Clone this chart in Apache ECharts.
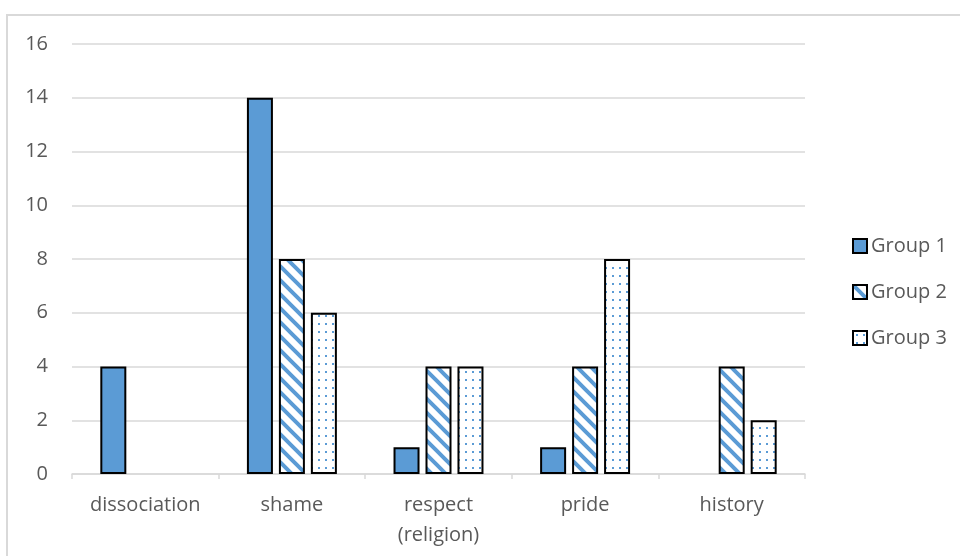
<!DOCTYPE html>
<html>
<head>
<meta charset="utf-8">
<script src="https://cdn.jsdelivr.net/npm/echarts@6/dist/echarts.min.js"></script>
<style>
  html, body { margin: 0; padding: 0; background: #ffffff; }
  #chart { width: 960px; height: 556px; }
</style>
</head>
<body>
<div id="chart"></div>
<script>
// Categories and counts per group
const categories = ['dissociation', 'shame', 'respect\n(religion)', 'pride', 'history'];
const group1 = [4, 14, 1, 1, 0];
const group2 = [0, 8, 4, 4, 4];
const group3 = [0, 6, 4, 8, 2];
const seriesNames = ['Group 1', 'Group 2', 'Group 3'];
const yTicks = { min: 0, max: 16, interval: 2 };

const BLUE = '#5B9BD5';
const TEXT = '#595959';
const GRID = '#D9D9D9';
const FONT = '"Open Sans", "Noto Sans", sans-serif';

// Wide downward-diagonal stripes
function stripePattern() {
  const s = 14;
  const c = document.createElement('canvas');
  c.width = s; c.height = s;
  const g = c.getContext('2d');
  g.fillStyle = '#ffffff';
  g.fillRect(0, 0, s, s);
  g.strokeStyle = BLUE;
  g.lineWidth = 4;
  g.beginPath();
  for (let k = -1; k <= 1; k++) {
    g.moveTo(k * s - 2, -2);
    g.lineTo(k * s + s + 2, s + 2);
  }
  g.stroke();
  return c;
}

// Small scattered dots
function dotPattern() {
  const c = document.createElement('canvas');
  c.width = 7; c.height = 8;
  const g = c.getContext('2d');
  g.fillStyle = '#ffffff';
  g.fillRect(0, 0, 7, 8);
  g.fillStyle = BLUE;
  g.fillRect(3, 3, 2, 2);
  return c;
}

const fills = [
  BLUE,
  { image: stripePattern(), repeat: 'repeat' },
  { image: dotPattern(), repeat: 'repeat' }
];

// Zero-count bars carry no outline
function toData(arr) {
  return arr.map(v => v === 0 ? { value: 0, itemStyle: { borderWidth: 0 } } : v);
}

const chart = echarts.init(document.getElementById('chart'), null, { renderer: 'canvas' });

chart.setOption({
  animation: false,
  backgroundColor: '#ffffff',
  textStyle: { fontFamily: FONT },
  graphic: [{
    type: 'rect',
    shape: { x: 7, y: 15, width: 1000, height: 600 },
    style: { fill: 'none', stroke: GRID, lineWidth: 2 },
    silent: true
  }],
  grid: { left: 72, right: 155, top: 44, bottom: 82, containLabel: false },
  legend: {
    orient: 'vertical',
    left: 847,
    top: 231,
    itemWidth: 14,
    itemHeight: 14,
    itemGap: 26,
    icon: 'rect',
    textStyle: { color: TEXT, fontSize: 20, fontFamily: FONT, padding: [0, 0, 0, -1] },
    data: seriesNames
  },
  xAxis: {
    type: 'category',
    data: categories,
    axisLine: { show: true, lineStyle: { color: GRID, width: 1.5 } },
    axisTick: { show: true, length: 5, lineStyle: { color: GRID, width: 1.5 } },
    axisLabel: {
      color: TEXT, fontSize: 20, fontFamily: FONT, margin: 16, lineHeight: 30,
      interval: 0
    }
  },
  yAxis: {
    type: 'value',
    min: yTicks.min,
    max: yTicks.max,
    interval: yTicks.interval,
    axisLine: { show: false },
    axisTick: { show: false },
    splitLine: { lineStyle: { color: GRID, width: 1.5 } },
    axisLabel: { color: TEXT, fontSize: 20, fontFamily: FONT, margin: 24 }
  },
  series: [group1, group2, group3].map((vals, i) => ({
    name: seriesNames[i],
    type: 'bar',
    data: toData(vals),
    barWidth: 26,
    barGap: '23%',
    itemStyle: { color: fills[i], borderColor: '#000000', borderWidth: 2 }
  }))
});
</script>
</body>
</html>
